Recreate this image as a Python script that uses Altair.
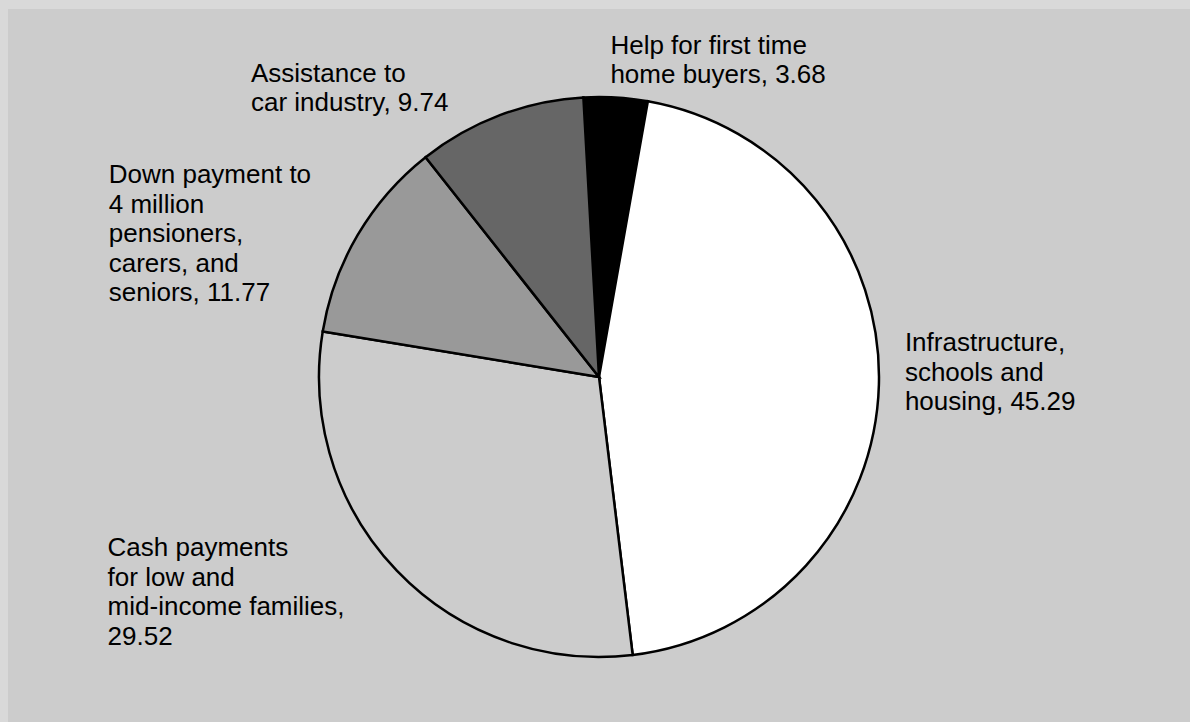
import math
import altair as alt
import pandas as pd

# ---- data ----
categories = [
    "Help for first time home buyers",
    "Infrastructure, schools and housing",
    "Cash payments for low and mid-income families",
    "Down payment to 4 million pensioners, carers, and seniors",
    "Assistance to car industry",
]
values = [3.68, 45.29, 29.52, 11.77, 9.74]
labels = [
    "Help for first time\nhome buyers, 3.68",
    "Infrastructure,\nschools and\nhousing, 45.29",
    "Cash payments\nfor low and\nmid-income families,\n29.52",
    "Down payment to\n4 million\npensioners,\ncarers, and\nseniors, 11.77",
    "Assistance to\ncar industry, 9.74",
]
fills = ["#000000", "#ffffff", "#cccccc", "#999999", "#666666"]

df = pd.DataFrame({
    "idx": list(range(len(categories))),
    "category": categories,
    "value": values,
    "label": labels,
})

# ---- styling / layout ----
W, H = 1182, 713
CX, CY = 591, 368          # pie centre inside the view
R = 280                     # pie radius
LR = 308                    # label anchor radius
start = math.radians(-3.2)
theta_scale = alt.Scale(domain=[0, 100], range=[start, start + 2 * math.pi])

# per-label text offsets (dx, dy) from the polar anchor
offsets = [(-7, -16), (-2, -34), (-269, -34), (-225, -37), (-239, -7)]

base = alt.Chart(df)

pie = base.mark_arc(stroke="#000000", strokeWidth=2.5, radius=R).encode(
    theta=alt.Theta("value:Q", stack=True, scale=theta_scale),
    order=alt.Order("idx:Q"),
    color=alt.Color(
        "category:N",
        scale=alt.Scale(domain=categories, range=fills),
        legend=None,
    ),
    x=alt.value(CX),
    y=alt.value(CY),
)

text_base = base.transform_window(
    cum="sum(value)", sort=[alt.SortField("idx")], frame=[None, 0]
).transform_calculate(mid="datum.cum - datum.value / 2")

text_layers = []
for i, (dx, dy) in enumerate(offsets):
    t = text_base.transform_filter(f"datum.idx == {i}").mark_text(
        radius=LR,
        align="left",
        baseline="alphabetic",
        dx=dx,
        dy=dy,
        font="Liberation Sans",
        fontSize=26,
        lineHeight=29.5,
        lineBreak="\n",
        color="#000000",
    ).encode(
        theta=alt.Theta("mid:Q", stack=False, scale=theta_scale),
        text="label:N",
        x=alt.value(CX),
        y=alt.value(CY),
    )
    text_layers.append(t)

chart = alt.layer(pie, *text_layers).properties(
    width=W,
    height=H,
    autosize=alt.AutoSizeParams(type="none"),
    padding={"left": 8, "top": 9, "right": 0, "bottom": 0},
    background="#d9d9d9",
).configure_view(fill="#cccccc", stroke=None)

chart.save("out.html", embed_options={"renderer": "svg", "actions": False})
